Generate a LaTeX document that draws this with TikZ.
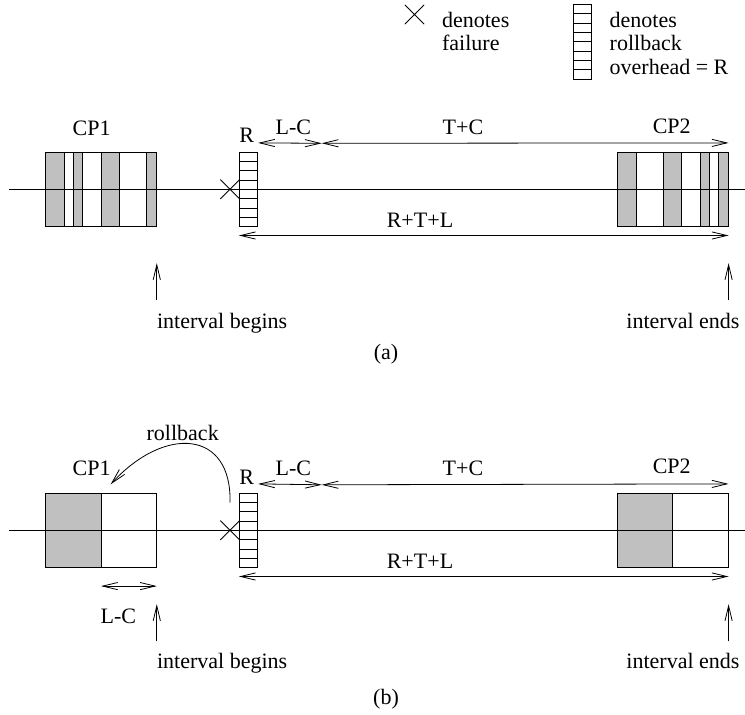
\documentclass[tikz,border=0pt]{standalone}
\usepackage{fontspec}
\setmainfont{Liberation Serif}
\usetikzlibrary{arrows.meta,shapes.misc,calc}
\definecolor{stripegray}{RGB}{192,192,192}
\tikzset{
  lbl/.style={font=\fontsize{11}{11.75}\selectfont,inner sep=0pt},
  cpbox/.style={draw,minimum width=55.4pt,minimum height=37.2pt,inner sep=0pt},
  rbbox/.style={draw,minimum width=9.2pt,minimum height=37.2pt,inner sep=0pt,
    path picture={\foreach \k in {1,...,7}
      \draw ($(path picture bounding box.north west)!\k/8!(path picture bounding box.south west)$) -- ++(12pt,0);}},
  failmark/.style={cross out,draw,minimum size=9.3pt,inner sep=0pt},
}

\begin{document}
\begin{tikzpicture}[x=0.5pt,y=-0.5pt,>={Straight Barb[length=7.5pt,width=3.6pt]}]
\useasboundingbox (0,0) rectangle (745,715);

% legend
\node[failmark] (xleg) at (414.5,14.5) {};
\node[lbl,anchor=north west,align=left] (xlegt) at (441.7,11.7) {denotes\\failure};
\node[rbbox] (rleg) at (582.5,41.8) {};
\node[lbl,anchor=north west,align=left] (rlegt) at (609.3,11.7) {denotes\\rollback\\overhead = R};

% (a)
\node[cpbox] (cp1a) at (101,189.5) {};
\node[cpbox] (cp2a) at (672.8,189.5) {};
\foreach \l/\r in {45.7/64.3,73.3/82.3,101/119.3,146.7/156.3}
  \filldraw[fill=stripegray] (\l,152.3) rectangle (\r,226.7);
\foreach \l/\r in {617.3/636,663.7/681.7,700.3/709.3,718.7/728.3}
  \filldraw[fill=stripegray] (\l,152.3) rectangle (\r,226.7);
\node[rbbox] (ra) at (248.5,189.5) {};
\node[failmark] (xa) at (230,189.3) {};
\coordinate (tla) at (9,189.3);
\coordinate (tlb) at (745,189.3);
\draw (tla) -- (tlb);

\node[lbl] (cp1la) at (91.7,128.3) {CP1};
\node[lbl] (rla) at (246.7,135.5) {R};
\node[lbl] (lcla) at (293.3,127.5) {L-C};
\node[lbl] (tcla) at (463,127.5) {T+C};
\node[lbl] (cp2la) at (671.7,126.7) {CP2};
\node[lbl] (rtla) at (420,220) {R+T+L};

\coordinate (lca) at (321.7,143.3);
\draw[<->] ([yshift=4.5pt]ra.north east) -- (lca);
\draw[<->] (lca) -- ([yshift=4.5pt]cp2a.north east);
\draw[<->] ([yshift=-4.2pt]ra.south west) -- ([yshift=-4.2pt]cp2a.south east);

\draw[->] ([yshift=-36.7pt]cp1a.south east) -- ([yshift=-18pt]cp1a.south east);
\draw[->] ([yshift=-36.7pt]cp2a.south east) -- ([yshift=-18pt]cp2a.south east);
\node[lbl,anchor=base west] (iba) at (156.7,328.3) {interval begins};
\node[lbl,anchor=base] (iea) at (683,328.3) {interval ends};
\node[lbl] (capa) at (386,354) {(a)};

% (b)
\node[cpbox] (cp1b) at (101,530.5) {};
\node[cpbox] (cp2b) at (672.8,530.5) {};
\filldraw[fill=stripegray] (45.7,493.3) rectangle (101,567.7);
\filldraw[fill=stripegray] (617.3,493.3) rectangle (672.7,567.7);
\node[rbbox] (rb) at (248.5,530.5) {};
\node[failmark] (xb) at (230,530.3) {};
\coordinate (tlc) at (9,530.3);
\coordinate (tld) at (745,530.3);
\draw (tlc) -- (tld);

\node[lbl] (cp1lb) at (91.7,468.3) {CP1};
\node[lbl] (rlb) at (246.7,477.5) {R};
\node[lbl] (lclb) at (293.3,468) {L-C};
\node[lbl] (tclb) at (463,468) {T+C};
\node[lbl] (cp2lb) at (671.7,466.7) {CP2};
\node[lbl] (rtlb) at (420,561) {R+T+L};
\node[lbl] (rbl) at (182.7,432.7) {rollback};

\coordinate (lcb) at (321.7,484.8);
\draw[<->] ([yshift=4.5pt]rb.north east) -- (lcb);
\draw[<->] (lcb) -- ([yshift=4.5pt]cp2b.north east);
\draw[<->] ([yshift=-4.2pt]rb.south west) -- ([yshift=-4.2pt]cp2b.south east);

\coordinate (rbe) at (110.7,484.3);
\draw[->] ([yshift=9pt]xb.north) .. controls (232,430) and (165,425) .. (rbe);

\draw[<->] ([yshift=-9pt]cp1b.south) -- ([yshift=-9pt]cp1b.south east);
\node[lbl] (lcl) at (118.3,616) {L-C};

\draw[->] ([yshift=-36.7pt]cp1b.south east) -- ([yshift=-18pt]cp1b.south east);
\draw[->] ([yshift=-36.7pt]cp2b.south east) -- ([yshift=-18pt]cp2b.south east);
\node[lbl,anchor=base west] (ibb) at (156.7,669) {interval begins};
\node[lbl,anchor=base] (ieb) at (683,669) {interval ends};
\node[lbl] (capb) at (386,699) {(b)};

\end{tikzpicture}
\end{document}
